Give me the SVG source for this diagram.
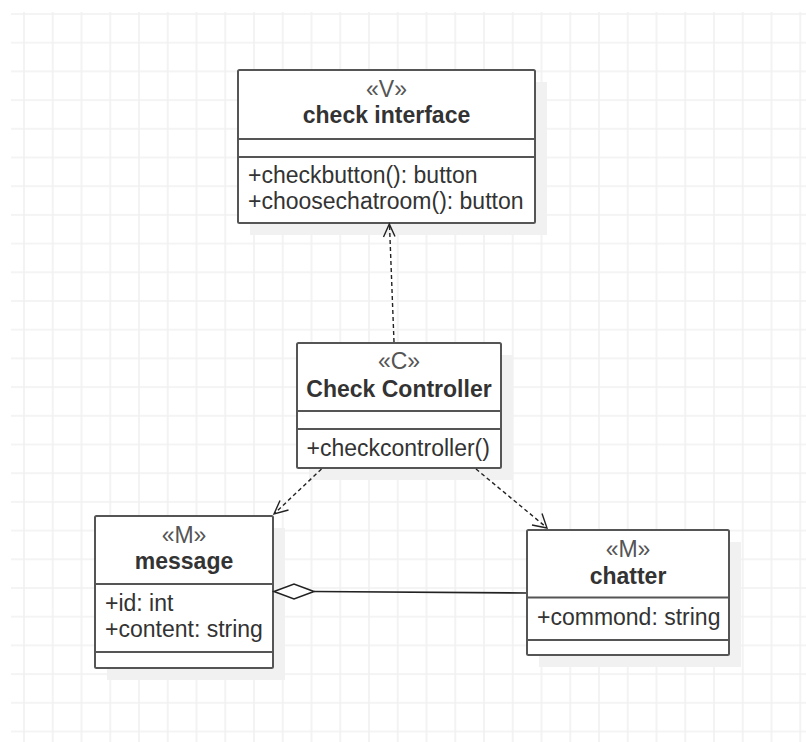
<svg xmlns="http://www.w3.org/2000/svg" width="806" height="742" viewBox="0 0 806 742">
<style>
.box{fill:#ffffff;stroke:#555555;stroke-width:2;}
.sh{fill:#f1f1f1;}
.div{stroke:#555555;stroke-width:2;fill:none;}
.st{font-family:"Liberation Sans",Arial,sans-serif;font-size:23px;fill:#555555;text-anchor:middle;}
.ti{font-family:"Liberation Sans",Arial,sans-serif;font-size:23px;font-weight:bold;fill:#333333;text-anchor:middle;}
.at{font-family:"Liberation Sans",Arial,sans-serif;font-size:23px;fill:#333333;}
.dep{stroke:#222222;stroke-width:1.4;fill:none;stroke-dasharray:4 3;}
.head{stroke:#222222;stroke-width:1.4;fill:none;}
.agg{stroke:#222222;stroke-width:1.6;fill:none;}
</style>
<defs>
<pattern id="grid" patternUnits="userSpaceOnUse" x="23" y="13" width="28.75" height="28.7">
<path d="M1 0 V28.7 M0 1 H28.75" stroke="#f1f1f1" stroke-width="1.6" fill="none"/>
</pattern>
</defs>
<rect x="0" y="0" width="806" height="742" fill="#ffffff"/>
<rect x="11" y="12" width="795" height="730" fill="url(#grid)"/>

<g id="check-interface">
<rect class="sh" x="250" y="82" width="297" height="153"/>
<rect class="box" x="238" y="70" width="297" height="153" rx="1.5"/>
<path class="div" d="M238 139 H535 M238 157 H535"/>
<text class="st" x="386.5" y="97">«V»</text>
<text class="ti" x="386.5" y="123">check interface</text>
<text class="at" x="248" y="183">+checkbutton(): button</text>
<text class="at" x="248" y="209">+choosechatroom(): button</text>
</g>

<g id="check-controller">
<rect class="sh" x="309" y="355" width="204" height="125"/>
<rect class="box" x="297" y="343" width="204" height="125" rx="1.5"/>
<path class="div" d="M297 411 H501 M297 429 H501"/>
<text class="st" x="399" y="369">«C»</text>
<text class="ti" x="399" y="396.5">Check Controller</text>
<text class="at" x="306.5" y="455.5">+checkcontroller()</text>
</g>

<g id="message">
<rect class="sh" x="107" y="528" width="178" height="152"/>
<rect class="box" x="95" y="516" width="178" height="152" rx="1.5"/>
<path class="div" d="M95 584 H273 M95 652 H273"/>
<text class="st" x="184" y="543">«M»</text>
<text class="ti" x="184" y="569">message</text>
<text class="at" x="105" y="610.5">+id: int</text>
<text class="at" x="105" y="636.5">+content: string</text>
</g>

<g id="chatter">
<rect class="sh" x="539" y="542" width="202" height="125"/>
<rect class="box" x="527" y="530" width="202" height="125" rx="1.5"/>
<path class="div" d="M527 597.5 H729 M527 640 H729"/>
<text class="st" x="628" y="556.5">«M»</text>
<text class="ti" x="628" y="584">chatter</text>
<text class="at" x="537" y="625">+commond: string</text>
</g>

<g id="connectors">
<path class="dep" d="M394 342 L389.5 225"/>
<path class="head" d="M383.5 237 L389.3 224 L395 236.5"/>
<path class="dep" d="M321.5 469 L275 513"/>
<path class="head" d="M280 500.5 L274 514 L288.5 510"/>
<path class="dep" d="M476 469 L546 527"/>
<path class="head" d="M532 525 L547 528 L542 513.5"/>
<path class="agg" d="M314 591.5 L526 593"/>
<path d="M274 591.5 L294 584 L314 591.5 L294 599 Z" fill="#ffffff" stroke="#222222" stroke-width="1.6"/>
</g>
</svg>
